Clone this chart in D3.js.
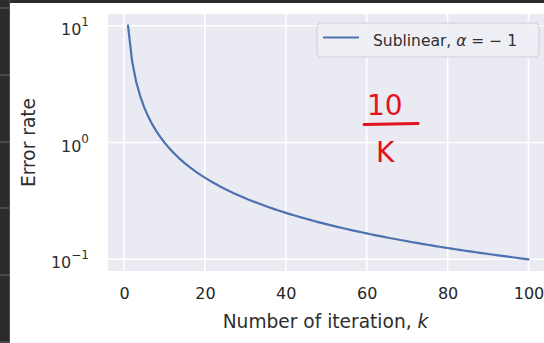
<!DOCTYPE html>
<html>
<head>
<meta charset="utf-8">
<script src="https://cdn.jsdelivr.net/npm/d3@7"></script>
<style>
  html, body { margin: 0; padding: 0; background: #fff; }
  svg { display: block; }
  text { font-family: "DejaVu Sans", sans-serif; fill: #262626; }
</style>
</head>
<body>
<div id="chart"></div>
<script>
var w = 544, h = 343;

// iteration number k
var iterations = [
  1, 2, 3, 4, 5, 6, 7, 8, 9, 10, 11, 12, 13, 14, 15, 16, 17, 18, 19, 20,
  21, 22, 23, 24, 25, 26, 27, 28, 29, 30, 31, 32, 33, 34, 35, 36, 37, 38, 39, 40,
  41, 42, 43, 44, 45, 46, 47, 48, 49, 50, 51, 52, 53, 54, 55, 56, 57, 58, 59, 60,
  61, 62, 63, 64, 65, 66, 67, 68, 69, 70, 71, 72, 73, 74, 75, 76, 77, 78, 79, 80,
  81, 82, 83, 84, 85, 86, 87, 88, 89, 90, 91, 92, 93, 94, 95, 96, 97, 98, 99, 100
];

// error rate (sublinear, 10/k)
var errorRate = [
  10, 5, 3.333, 2.5, 2, 1.667, 1.429, 1.25, 1.111, 1,
  0.9091, 0.8333, 0.7692, 0.7143, 0.6667, 0.625, 0.5882, 0.5556, 0.5263, 0.5,
  0.4762, 0.4545, 0.4348, 0.4167, 0.4, 0.3846, 0.3704, 0.3571, 0.3448, 0.3333,
  0.3226, 0.3125, 0.3030, 0.2941, 0.2857, 0.2778, 0.2703, 0.2632, 0.2564, 0.25,
  0.2439, 0.2381, 0.2326, 0.2273, 0.2222, 0.2174, 0.2128, 0.2083, 0.2041, 0.2,
  0.1961, 0.1923, 0.1887, 0.1852, 0.1818, 0.1786, 0.1754, 0.1724, 0.1695, 0.1667,
  0.1639, 0.1613, 0.1587, 0.1563, 0.1538, 0.1515, 0.1493, 0.1471, 0.1449, 0.1429,
  0.1408, 0.1389, 0.1370, 0.1351, 0.1333, 0.1316, 0.1299, 0.1282, 0.1266, 0.125,
  0.1235, 0.1220, 0.1205, 0.1190, 0.1176, 0.1163, 0.1149, 0.1136, 0.1124, 0.1111,
  0.1099, 0.1087, 0.1075, 0.1064, 0.1053, 0.1042, 0.1031, 0.1020, 0.1010, 0.1
];

var xTicks = [0, 20, 40, 60, 80, 100];
var yTicks = [0.1, 1, 10];
var yTickExp = ["\u22121", "0", "1"];
var seriesName = "Sublinear, ";

var svg = d3.select("#chart").append("svg")
    .attr("width", w).attr("height", h);

// plot frame (named so they don't clash with window.top etc.)
var pLeft = 108, pRight = 548.5, pTop = 14, pBottom = 271;

var x = d3.scaleLinear().domain([-3.95, 104.95]).range([pLeft, pRight]);
var y = d3.scaleLog().domain([Math.pow(10, -1.1), Math.pow(10, 1.1)]).range([pBottom, pTop]);

svg.append("rect")
    .attr("x", pLeft).attr("y", pTop)
    .attr("width", pRight - pLeft).attr("height", pBottom - pTop)
    .attr("fill", "#eaeaf2");

// grid lines
var grid = svg.append("g").attr("stroke", "#fff").attr("stroke-width", 1.6);
grid.selectAll("line.vx").data(xTicks).enter().append("line")
    .attr("x1", d => x(d)).attr("x2", d => x(d))
    .attr("y1", pTop).attr("y2", pBottom);
grid.selectAll("line.hy").data(yTicks).enter().append("line")
    .attr("x1", pLeft).attr("x2", pRight)
    .attr("y1", d => y(d)).attr("y2", d => y(d));

// the curve
var pts = iterations.map((k, i) => [k, errorRate[i]]);
svg.append("path")
    .attr("d", d3.line().x(d => x(d[0])).y(d => y(d[1]))(pts))
    .attr("fill", "none")
    .attr("stroke", "#4c72b0")
    .attr("stroke-width", 2.2)
    .attr("stroke-linecap", "round");

// x axis tick labels
var xAxis = svg.append("g")
    .attr("transform", "translate(0," + pBottom + ")")
    .call(d3.axisBottom(x).tickValues(xTicks).tickSize(0).tickPadding(17));
xAxis.select(".domain").remove();
xAxis.selectAll("text")
    .attr("font-size", 16).attr("font-family", "DejaVu Sans")
    .attr("fill", "#2e2e2e");

// y axis tick labels as 10^n
var yAxis = svg.append("g");
yAxis.selectAll("text").data(yTicks).enter().append("text")
    .attr("x", 89)
    .attr("y", d => y(d) + 9)
    .attr("text-anchor", "end")
    .attr("font-size", 16)
    .style("fill", "#2e2e2e")
    .each(function (d, i) {
        var t = d3.select(this);
        t.append("tspan").text("10");
        t.append("tspan").attr("dy", -9).attr("font-size", 12).text(yTickExp[i]);
    });

// axis labels
svg.append("text")
    .attr("x", 325.5).attr("y", 328)
    .attr("text-anchor", "middle")
    .attr("font-size", 18.6)
    .style("fill", "#2e2e2e")
    .html("Number of iteration, <tspan font-style='italic'>k</tspan>");

svg.append("text")
    .attr("transform", "translate(35," + ((pTop + pBottom) / 2) + ") rotate(-90)")
    .attr("text-anchor", "middle")
    .attr("font-size", 18.6)
    .style("fill", "#2e2e2e")
    .text("Error rate");

// legend
var legend = svg.append("g");
legend.append("rect")
    .attr("x", 317).attr("y", 23).attr("width", 222).attr("height", 34)
    .attr("rx", 4)
    .attr("fill", "#eeeef5").attr("fill-opacity", 0.9)
    .attr("stroke", "#d0d0d8").attr("stroke-width", 1);
legend.append("line")
    .attr("x1", 323).attr("x2", 359).attr("y1", 37.5).attr("y2", 37.5)
    .attr("stroke", "#4c72b0").attr("stroke-width", 2.2);
var lt = legend.append("text")
    .attr("x", 373).attr("y", 46)
    .attr("font-size", 15.5)
    .style("fill", "#2e2e2e");
lt.append("tspan").text(seriesName);
lt.append("tspan").attr("font-style", "italic").text("\u03b1");
lt.append("tspan").text(" = \u2212 1");

// handwritten note in red
var note = svg.append("g");
note.append("text").attr("x", 367).attr("y", 115)
    .attr("font-size", 28).style("fill", "#e3121c").text("10");
note.append("line")
    .attr("x1", 364).attr("x2", 418).attr("y1", 124.5).attr("y2", 123.5)
    .attr("stroke", "#e3121c").attr("stroke-width", 3).attr("stroke-linecap", "round");
note.append("text").attr("x", 376).attr("y", 162)
    .attr("font-size", 28).style("fill", "#e3121c").text("K");

// dark editor frame at top and left
svg.append("rect").attr("x", 0).attr("y", 0).attr("width", w).attr("height", 3).attr("fill", "#2b2b2b");
svg.append("rect").attr("x", 0).attr("y", 0).attr("width", 10).attr("height", h).attr("fill", "#2b2b2b");
svg.append("line").attr("x1", 9.5).attr("x2", 9.5).attr("y1", 0).attr("y2", h)
    .attr("stroke", "#4a4a4a").attr("stroke-width", 1);
svg.selectAll("line.sep").data([8, 75, 142, 208, 275, 342]).enter().append("line")
    .attr("x1", 0).attr("x2", 10).attr("y1", d => d).attr("y2", d => d)
    .attr("stroke", "#555").attr("stroke-width", 1.5);
</script>
</body>
</html>
